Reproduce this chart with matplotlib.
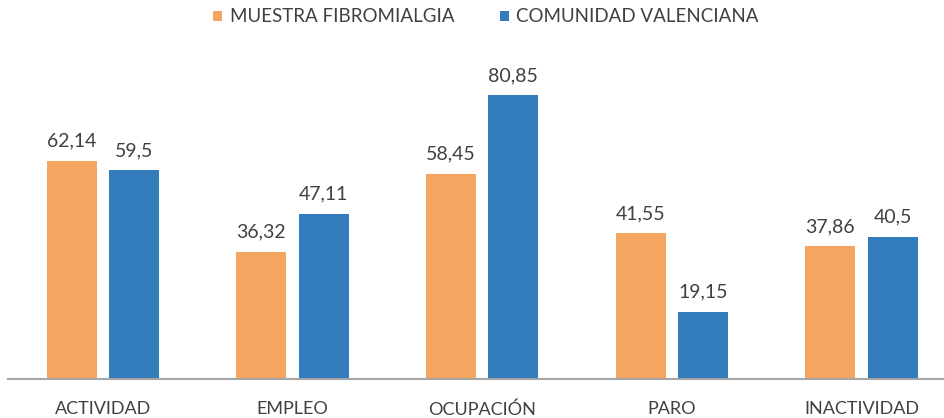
import matplotlib
matplotlib.use("Agg")
import matplotlib.pyplot as plt
import numpy as np

categories = ["ACTIVIDAD", "EMPLEO", "OCUPACIÓN", "PARO", "INACTIVIDAD"]
series_names = ["MUESTRA FIBROMIALGIA", "COMUNIDAD VALENCIANA"]
fibromialgia = [62.14, 36.32, 58.45, 41.55, 37.86]
valenciana = [59.5, 47.11, 80.85, 19.15, 40.5]
colors = ["#F4A55F", "#337DBD"]

plt.rcParams['font.family'] = ['Lato', 'DejaVu Sans']

fig = plt.figure(figsize=(9.45, 4.18), dpi=100)
ax = fig.add_axes([8/945, 39/418, 1 - 8/945, 1 - 39/418])

x = np.arange(len(categories))
w = 0.264
off = 0.164

def fmt(v):
    s = ("%g" % v).replace(".", ",")
    return s

b1 = ax.bar(x - off, fibromialgia, w, color=colors[0], label=series_names[0])
b2 = ax.bar(x + off, valenciana, w, color=colors[1], label=series_names[1])
for bars, vals in ((b1, fibromialgia), (b2, valenciana)):
    for r, v in zip(bars, vals):
        ax.annotate(fmt(v), (r.get_x() + r.get_width()/2, v), xytext=(0, 8),
                    textcoords="offset points", ha="center", va="bottom",
                    fontsize=14, color="#404040")

ax.set_xlim(-0.5, 4.44)
ax.set_ylim(0, 108)
ax.set_yticks([])
ax.set_xticks(x)
ax.set_xticklabels(categories, fontsize=13, color="#404040")
ax.tick_params(axis="x", length=0, pad=16)
for s in ["top", "right", "left"]:
    ax.spines[s].set_visible(False)
ax.spines["bottom"].set_color("#A6A6A6")
ax.spines["bottom"].set_linewidth(1.5)

leg = fig.legend(handles=[b1, b2], labels=series_names, loc="center",
                 bbox_to_anchor=(486/945, 1 - 17/418), ncol=2, frameon=False,
                 fontsize=13.5, handlelength=0.5, handleheight=0.5,
                 handletextpad=0.4, columnspacing=2.4)
for t in leg.get_texts():
    t.set_color("#404040")

fig.savefig("out.png", dpi=100)
